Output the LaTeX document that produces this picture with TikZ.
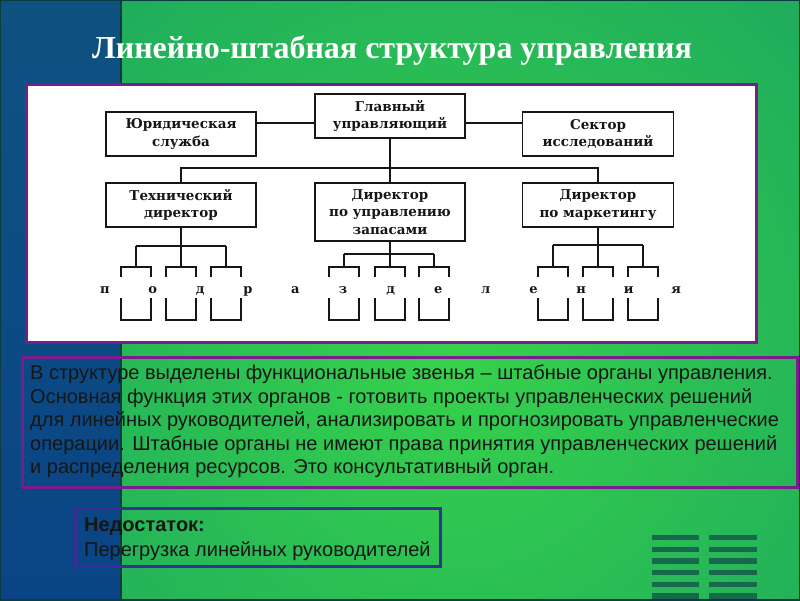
\documentclass[tikz,border=0pt]{standalone}
\usepackage{fontspec}
\setmainfont{Liberation Sans}
\newfontfamily\titlefont{Liberation Serif}
\newfontfamily\boxfont{DejaVu Serif}
\definecolor{bgcenter}{RGB}{54,210,76}
\definecolor{bgmid}{RGB}{32,172,92}
\definecolor{bgouter}{RGB}{10,130,118}
\definecolor{stripT}{RGB}{14,82,128}
\definecolor{stripB}{RGB}{10,68,134}
\definecolor{framepurple}{RGB}{122,28,140}
\definecolor{indigoframe}{RGB}{58,46,150}
\definecolor{bars}{RGB}{24,104,78}
\definecolor{divider}{RGB}{12,60,62}
\definecolor{ink}{RGB}{22,22,22}
\pgfdeclareradialshading{bgshade}{\pgfpoint{0bp}{0bp}}{color(0bp)=(bgcenter); color(22bp)=(bgmid); color(50bp)=(bgouter)}
\tikzset{
  orgbox/.style={draw=ink, line width=1.6pt, fill=white, align=center, inner sep=0pt,
    font=\boxfont\bfseries\fontsize{13.5}{17.5}\selectfont, text=ink},
  conn/.style={draw=ink, line width=1.6pt},
  letter/.style={anchor=base, inner sep=0pt, text=ink, font=\boxfont\bfseries\fontsize{13}{15}\selectfont},
  bodytext/.style={anchor=base west, inner sep=0pt, text=ink, font=\fontsize{20}{24}\selectfont},
}
\begin{document}
\begin{tikzpicture}[x=1pt,y=-1pt]
\useasboundingbox (0,0) rectangle (800,600);
% background
\fill[bgouter] (0,0) rectangle (800,600);
\begin{scope}
  \clip (121,0) rectangle (800,600);
  \shade[shading=bgshade] (450,360) circle[radius=560];
\end{scope}
\shade[top color=stripT, bottom color=stripB] (0,0) rectangle (121,600);
\draw[divider, line width=1.5pt] (121,0) -- (121,600);
\draw[divider, line width=2pt] (0,0) rectangle (800,600);
% stripes
\foreach \yy in {537.5,549.2,560.9,572.6,584.3,596} {
  \fill[bars] (652,\yy-2.7) rectangle (699,\yy+2.7);
  \fill[bars] (709,\yy-2.7) rectangle (757,\yy+2.7);
}
% title
\node[anchor=base, font=\titlefont\bfseries\fontsize{32}{36}\selectfont, text=white, inner sep=0pt] (title) at (392,58) {Линейно-штабная структура управления};
% white panel
\draw[framepurple, line width=3pt, fill=white] (26.5,84.5) rectangle (756,342);
% org boxes
\node[orgbox, minimum width=150pt, minimum height=44pt] (gl) at (390,116) {Главный\\управляющий};
\node[orgbox, minimum width=150pt, minimum height=44pt] (jur) at (181,134) {Юридическая\\служба};
\node[orgbox, minimum width=151pt, minimum height=44pt] (sec) at (598,134) {Сектор\\исследований};
\node[orgbox, minimum width=150pt, minimum height=44pt] (tech) at (181,205) {Технический\\директор};
\node[orgbox, minimum width=150pt, minimum height=58pt] (zap) at (390,212) {Директор\\по управлению\\запасами};
\node[orgbox, minimum width=151pt, minimum height=44pt] (mkt) at (598,205) {Директор\\по маркетингу};
% connectors
\coordinate (hl) at (0,123);
\coordinate (bus) at (0,168);
\draw[conn] (jur.east |- hl) -- (gl.west |- hl);
\draw[conn] (gl.east |- hl) -- (sec.west |- hl);
\draw[conn] (gl.south) -- (zap.north);
\draw[conn] (tech.north) -- (tech.north |- bus) -- (mkt.north |- bus) -- (mkt.north);
% sub-units
\foreach \p/\by/\xa/\xb/\xc in {tech/246/136/181/226, zap/254/344/390/434, mkt/245/553/598/643} {
  \draw[conn] (\p.south) |- (\xb,\by);
  \draw[conn] (\xa,\by) -- (\xc,\by);
  \foreach \xx in {\xa,\xb,\xc} {
    \draw[conn] (\xx,\by) -- (\xx,267);
    \draw[conn] (\xx-15,277) -- (\xx-15,267) -- (\xx+15,267) -- (\xx+15,277);
    \draw[conn] (\xx-15,298) -- (\xx-15,320) -- (\xx+15,320) -- (\xx+15,298);
  }
}
\foreach \ch [count=\i from 0] in {п,о,д,р,а,з,д,е,л,е,н,и,я} {
  \node[letter] (L\i) at ({105+47.6*\i},293) {\ch};
}
% text box 1
\draw[framepurple, line width=3pt] (22.5,357) rectangle (797.5,487);
\node[bodytext] (t1) at (30,379) {В структуре выделены функциональные звенья – штабные органы управления.};
\node[bodytext] (t2) at (30,403) {Основная функция этих органов - готовить проекты управленческих решений};
\node[bodytext] (t3) at (30,426.5) {для линейных руководителей, анализировать и прогнозировать управленческие};
\node[bodytext] (t4) at (30,450) {операции. Штабные органы не имеют права принятия управленческих решений};
\node[bodytext] (t5) at (30,473.5) {и распределения ресурсов. Это консультативный орган.};
% text box 2
\draw[indigoframe, line width=3pt] (75,508.5) rectangle (440,566.5);
\node[bodytext, font=\bfseries\fontsize{20}{24}\selectfont] (n1) at (84,531) {Недостаток:};
\node[bodytext] (n2) at (84,556) {Перегрузка линейных руководителей};
\end{tikzpicture}
\end{document}
